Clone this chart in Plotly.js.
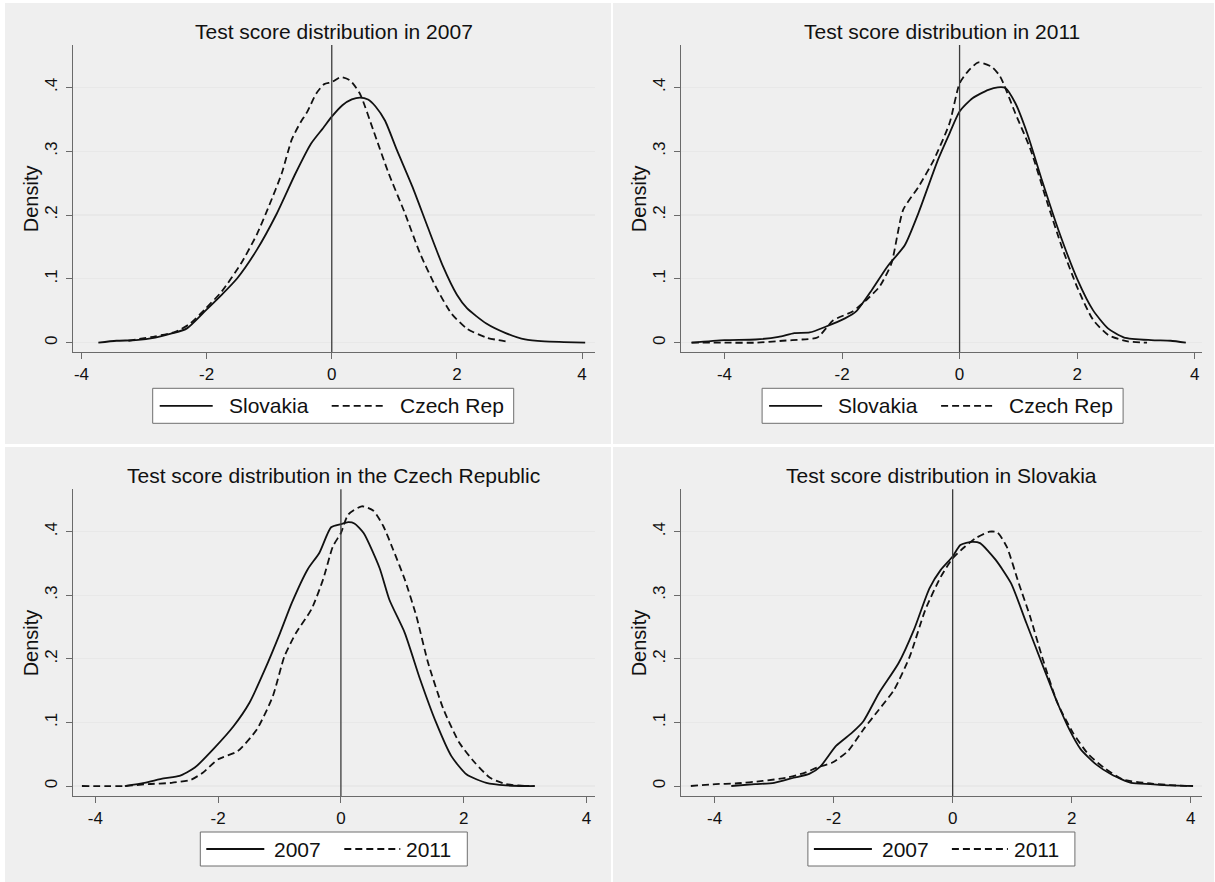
<!DOCTYPE html>
<html><head><meta charset="utf-8">
<script src="https://cdn.plot.ly/plotly-3.0.1.min.js"></script>
<style>html,body{margin:0;padding:0;background:#fff;}#chart{width:1215px;height:882px;}</style>
</head><body><div id="chart"></div>
<script>
// ---------------- text ----------------
const panelTitles = [
  "Test score distribution in 2007",
  "Test score distribution in 2011",
  "Test score distribution in the Czech Republic",
  "Test score distribution in Slovakia"
];
const legendNames = [["Slovakia", "Czech Rep"], ["Slovakia", "Czech Rep"], ["2007", "2011"], ["2007", "2011"]];
const yAxisTitle = "Density";
const xTickVals = [-4, -2, 0, 2, 4];
const xTickText = ["-4", "-2", "0", "2", "4"];
const yTickVals = [0, 0.1, 0.2, 0.3, 0.4];
const yTickText = ["0", ".1", ".2", ".3", ".4"];
const refLineX = 0;

// ---------------- data ----------------
// Panel 1: 2007
const p1SlovakiaX = [-3.73,-3.44,-3.13,-2.82,-2.57,-2.32,-2.01,-1.76,-1.51,-1.20,-0.89,-0.58,-0.33,-0.14,0,0.17,0.32,0.45,0.58,0.70,0.85,1.04,1.29,1.53,1.78,2.00,2.16,2.47,2.78,3.09,3.40,3.71,4.05];
const p1SlovakiaY = [0,0.003,0.004,0.008,0.014,0.022,0.051,0.075,0.101,0.145,0.200,0.265,0.312,0.336,0.354,0.372,0.381,0.384,0.381,0.370,0.348,0.302,0.244,0.182,0.119,0.075,0.054,0.030,0.015,0.005,0.002,0.001,0];
const p1CzechX = [-3.25,-2.82,-2.50,-2.26,-2.01,-1.76,-1.45,-1.20,-1.00,-0.80,-0.64,-0.50,-0.39,-0.25,-0.12,0,0.14,0.29,0.45,0.67,0.91,1.16,1.41,1.66,1.91,2.16,2.47,2.84];
const p1CzechY = [0.003,0.010,0.017,0.030,0.054,0.080,0.124,0.169,0.215,0.265,0.318,0.345,0.362,0.390,0.405,0.408,0.416,0.411,0.390,0.331,0.265,0.205,0.140,0.088,0.046,0.022,0.008,0.001];
// Panel 2: 2011
const p2SlovakiaX = [-4.56,-4.00,-3.47,-3.08,-2.81,-2.55,-2.28,-1.95,-1.76,-1.49,-1.23,-0.93,-0.70,-0.37,-0.17,0,0.22,0.49,0.65,0.78,0.95,1.15,1.41,1.68,2.01,2.27,2.53,2.80,3.26,3.59,3.85];
const p2SlovakiaY = [0,0.004,0.005,0.009,0.015,0.016,0.025,0.038,0.049,0.083,0.119,0.153,0.203,0.286,0.328,0.362,0.383,0.396,0.400,0.399,0.375,0.328,0.252,0.177,0.098,0.051,0.022,0.008,0.004,0.003,0];
const p2CzechX = [-4.56,-4.00,-3.47,-3.01,-2.68,-2.42,-2.15,-1.82,-1.56,-1.36,-1.16,-0.96,-0.70,-0.44,-0.17,0,0.16,0.32,0.55,0.69,0.95,1.21,1.48,1.74,2.01,2.27,2.53,2.86,3.19];
const p2CzechY = [0,0,0,0.003,0.005,0.008,0.035,0.049,0.069,0.088,0.124,0.208,0.244,0.286,0.344,0.406,0.427,0.439,0.432,0.417,0.359,0.302,0.223,0.150,0.085,0.036,0.012,0.002,0];
// Panel 3: Czech Republic
const p3Y2007X = [-3.52,-3.20,-2.89,-2.63,-2.38,-2.06,-1.75,-1.49,-1.24,-0.99,-0.80,-0.54,-0.35,-0.16,0,0.12,0.22,0.37,0.63,0.79,1.04,1.29,1.55,1.80,2.05,2.37,2.69,3.07];
const p3Y2007Y = [0,0.005,0.012,0.016,0.029,0.060,0.094,0.131,0.183,0.241,0.288,0.341,0.367,0.407,0.412,0.415,0.413,0.398,0.343,0.293,0.241,0.168,0.100,0.047,0.018,0.005,0.001,0];
const p3Y2011X = [-4.22,-3.52,-3.14,-2.76,-2.44,-2.25,-2.00,-1.68,-1.37,-1.11,-0.92,-0.73,-0.48,-0.29,-0.13,0,0.12,0.34,0.53,0.69,0.85,1.04,1.23,1.42,1.67,1.93,2.18,2.43,2.69,3.00,3.16];
const p3Y2011Y = [0,0,0.003,0.005,0.010,0.021,0.042,0.055,0.089,0.141,0.204,0.241,0.278,0.325,0.377,0.398,0.427,0.440,0.433,0.409,0.372,0.325,0.267,0.194,0.121,0.068,0.037,0.013,0.003,0,0];
// Panel 4: Slovakia
const p4Y2007X = [-3.72,-3.32,-3.00,-2.67,-2.41,-2.22,-1.96,-1.69,-1.50,-1.24,-0.91,-0.65,-0.39,-0.20,0,0.13,0.33,0.46,0.72,0.98,1.24,1.50,1.76,1.96,2.15,2.41,2.67,3.00,3.32,3.65,4.04];
const p4Y2007Y = [0,0.003,0.005,0.013,0.019,0.031,0.063,0.084,0.102,0.146,0.193,0.246,0.311,0.340,0.361,0.379,0.384,0.382,0.356,0.319,0.256,0.193,0.131,0.089,0.058,0.034,0.018,0.005,0.003,0.001,0];
const p4Y2011X = [-4.40,-3.98,-3.65,-3.19,-2.80,-2.48,-2.28,-2.02,-1.76,-1.50,-1.24,-0.98,-0.72,-0.46,-0.20,0,0.20,0.39,0.62,0.75,0.91,1.11,1.30,1.50,1.76,2.02,2.28,2.54,2.87,3.32,3.72,4.01];
const p4Y2011Y = [0,0.003,0.004,0.008,0.013,0.021,0.029,0.037,0.055,0.089,0.120,0.152,0.204,0.277,0.329,0.358,0.376,0.390,0.400,0.399,0.376,0.319,0.267,0.204,0.131,0.084,0.050,0.029,0.010,0.004,0.001,0];

// ---------------- layout geometry (px) ----------------
const W = 1215, H = 882;
const FONT = "Liberation Sans, Arial, Helvetica, sans-serif";
const panelRects = [[5,3,611,444],[613,3,1214,444],[5,447,611,882],[613,447,1214,882]];
const plotRects  = [[72.7,45,595.2,352],[680.7,45,1202.3,352],[72.7,489.3,595,796],[680.7,489.3,1202.3,796]];
const xRanges = [[-4.14,4.21],[-4.745,4.13],[-4.37,4.14],[-4.57,4.195]];
const yRanges = [[-0.0146,0.4663],[-0.0146,0.4663],[-0.0157,0.4667],[-0.0157,0.4667]];
const titleY = [31.7, 31.7, 475.3, 475.3];
// legend box: [left, top, width, height]; item offsets relative to box
const legendBoxes = [[152.7,388.3,361,35],[762.1,388.3,361,35],[200.3,832,267,34],[807.9,832,267,34]];
const legendItems = [
  {l1:[7,60], t1:74, l2:[179,234], t2:245},
  {l1:[7,60], t1:74, l2:[179,234], t2:245},
  {l1:[6,64], t1:72, l2:[144,200], t2:204},
  {l1:[6,64], t1:72, l2:[144,200], t2:204}
];
const px = v => v / W;
const py = v => 1 - v / H;

const seriesData = [
  [[p1SlovakiaX, p1SlovakiaY], [p1CzechX, p1CzechY]],
  [[p2SlovakiaX, p2SlovakiaY], [p2CzechX, p2CzechY]],
  [[p3Y2007X, p3Y2007Y], [p3Y2011X, p3Y2011Y]],
  [[p4Y2007X, p4Y2007Y], [p4Y2011X, p4Y2011Y]]
];
const lineStyles = [
  {color: "#111111", width: 1.8, dash: "solid", shape: "spline", smoothing: 0.6},
  {color: "#111111", width: 1.8, dash: "7px,4px", shape: "spline", smoothing: 0.6}
];

const traces = [];
const layout = {
  width: W, height: H, autosize: false,
  margin: {l: 0, r: 0, t: 0, b: 0, pad: 0},
  paper_bgcolor: "#ffffff", plot_bgcolor: "#ffffff",
  showlegend: false,
  font: {family: FONT, color: "#111111", size: 17},
  shapes: [], annotations: []
};

for (let i = 0; i < 4; i++) {
  const sfx = i === 0 ? "" : String(i + 1);
  const xa = "x" + sfx, ya = "y" + sfx;
  const [l, t, r, b] = plotRects[i];
  seriesData[i].forEach((s, k) => {
    traces.push({
      type: "scatter", mode: "lines", x: s[0], y: s[1],
      xaxis: xa, yaxis: ya, name: legendNames[i][k],
      line: lineStyles[k], hoverinfo: "skip"
    });
  });
  layout["xaxis" + sfx] = {
    domain: [px(l), px(r)], anchor: ya, range: xRanges[i], fixedrange: true,
    tickmode: "array", tickvals: xTickVals, ticktext: xTickText,
    ticks: "outside", ticklen: 6, tickwidth: 1, tickcolor: "#6a6a6a",
    showline: true, linecolor: "#6a6a6a", linewidth: 1.2, mirror: false,
    showgrid: false, zeroline: false,
    tickfont: {family: FONT, size: 17, color: "#111"}
  };
  layout["yaxis" + sfx] = {
    domain: [py(b), py(t)], anchor: xa, range: yRanges[i], fixedrange: true,
    tickmode: "array", tickvals: yTickVals, ticktext: yTickText, tickangle: -90,
    ticks: "outside", ticklen: 6, tickwidth: 1, tickcolor: "#6a6a6a",
    ticklabelstandoff: 2,
    showline: true, linecolor: "#6a6a6a", linewidth: 1.2, mirror: false,
    showgrid: true, gridcolor: "#e8e8e8", gridwidth: 1.2, zeroline: false,
    tickfont: {family: FONT, size: 17, color: "#111"}
  };
  // gray panel background
  const pr = panelRects[i];
  layout.shapes.push({type: "rect", xref: "paper", yref: "paper", layer: "below",
    x0: px(pr[0]), x1: px(pr[2]), y0: py(pr[3]), y1: py(pr[1]),
    fillcolor: "#efefef", line: {width: 0}});
  // reference line at x = 0
  layout.shapes.push({type: "line", xref: xa, yref: ya + " domain", layer: "above",
    x0: refLineX, x1: refLineX, y0: 0, y1: 1, line: {color: "#3c3c3c", width: 1.3}});
  // panel title
  layout.annotations.push({text: panelTitles[i], xref: "paper", yref: "paper",
    x: px((l + r) / 2), y: py(titleY[i]), xanchor: "center", yanchor: "middle",
    showarrow: false, font: {family: FONT, size: 21, color: "#111"}});
  // y axis title
  layout.annotations.push({text: yAxisTitle, xref: "paper", yref: "paper",
    x: px(l - 42), y: py((t + b) / 2), xanchor: "center", yanchor: "middle",
    textangle: -90, showarrow: false, font: {family: FONT, size: 20, color: "#111"}});
  // legend box
  const [bl, bt, bw, bh] = legendBoxes[i];
  const it = legendItems[i];
  const cy = bt + bh / 2;
  layout.shapes.push({type: "rect", xref: "paper", yref: "paper", layer: "above",
    x0: px(bl), x1: px(bl + bw), y0: py(bt + bh), y1: py(bt),
    fillcolor: "#ffffff", line: {color: "#6e6e6e", width: 1}});
  [[it.l1, it.t1], [it.l2, it.t2]].forEach((e, k) => {
    layout.shapes.push({type: "line", xref: "paper", yref: "paper", layer: "above",
      x0: px(bl + e[0][0]), x1: px(bl + e[0][1]), y0: py(cy), y1: py(cy),
      line: {color: lineStyles[k].color, width: lineStyles[k].width,
             dash: lineStyles[k].dash}});
    layout.annotations.push({text: legendNames[i][k], xref: "paper", yref: "paper",
      x: px(bl + e[1]), y: py(cy), xanchor: "left", yanchor: "middle",
      showarrow: false, font: {family: FONT, size: 21, color: "#111"}});
  });
}

Plotly.newPlot("chart", traces, layout, {staticPlot: true, displayModeBar: false});
</script>
</body></html>
